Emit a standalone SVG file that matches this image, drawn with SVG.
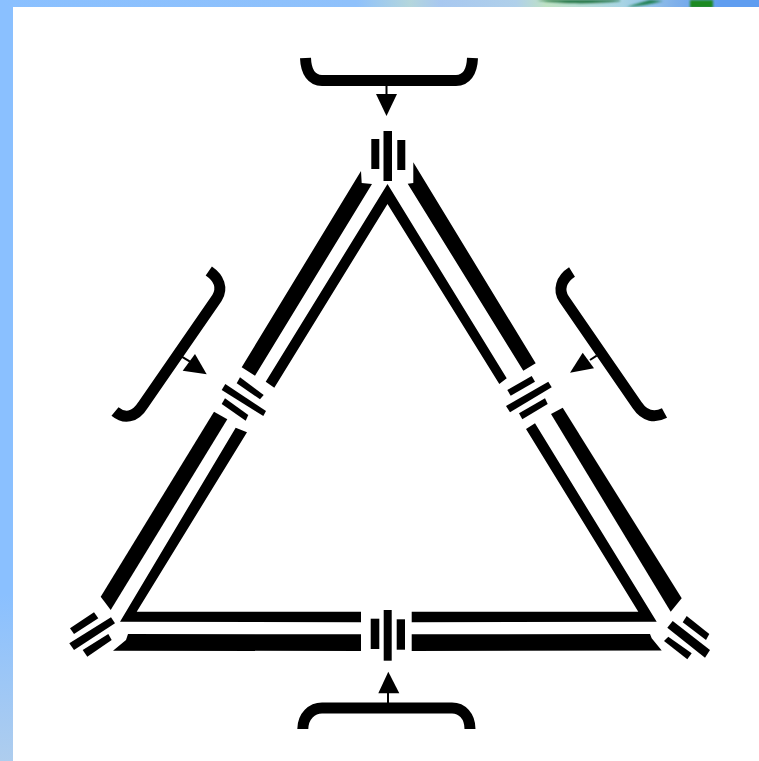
<svg xmlns="http://www.w3.org/2000/svg" width="759" height="761" viewBox="0 0 759 761">
<style>
.b{fill:#000}
.br{fill:none;stroke:#000;stroke-width:11;stroke-linecap:butt}
.st{fill:none;stroke:#000;stroke-width:2}
.s{filter:url(#soft)}
</style>
<defs>
<filter id="soft" x="-20%" y="-20%" width="140%" height="140%"><feGaussianBlur stdDeviation="0.55"/></filter>
<filter id="soft2" x="-20%" y="-100%" width="140%" height="300%"><feGaussianBlur stdDeviation="1.2"/></filter>
<linearGradient id="side" x1="0" y1="0" x2="0" y2="1">
<stop offset="0" stop-color="#8ac0ff"/><stop offset="0.78" stop-color="#8ac0ff"/><stop offset="1" stop-color="#aecdee"/>
</linearGradient>
<linearGradient id="top" x1="0" y1="0" x2="1" y2="0">
<stop offset="0" stop-color="#8ac0ff"/><stop offset="0.47" stop-color="#8fc1fb"/><stop offset="0.54" stop-color="#b4d6dc"/><stop offset="0.58" stop-color="#a8c8f0"/><stop offset="0.68" stop-color="#b0d0ea"/><stop offset="0.72" stop-color="#bfe2c4"/><stop offset="0.82" stop-color="#a8d4e4"/><stop offset="0.89" stop-color="#7fb0ea"/><stop offset="0.95" stop-color="#5f9df0"/><stop offset="1" stop-color="#5f9df0"/>
</linearGradient>
</defs>
<g id="background">
<rect width="759" height="761" fill="url(#side)"/>
<rect width="759" height="7" fill="url(#top)"/>
<g filter="url(#soft2)">
<path d="M537,0 C560,4 595,4 620,1 L620,0Z" fill="#1f6f3c"/>
<path d="M627,7 C640,6 652,4 663,1 L650,0 C640,3 632,5 627,7Z" fill="#1f7f50"/>
<path d="M690,8 L690,0 H713 L713,8Z" fill="#1f8a20"/>
</g>
<rect x="13" y="7" width="746" height="754" fill="#fff"/>
</g>
<g id="connectors" class="s">
<polygon class="b" points="361,171 361.7,183 372,184 255,375.7 241.7,367.3"/>
<polygon class="b" points="387.5,184 506.7,378.3 499.3,384 387.5,204 274.3,387.7 265.7,381.7"/>
<polygon class="b" points="413.3,162.3 413.3,183 407.7,183.7 523.3,370.7 535.7,363.3"/>
<polygon class="b" points="214,411.7 227.3,419.3 110.7,610 100.7,596.7"/>
<polygon class="b" points="235.7,427.7 247,432.3 136.7,611.7 361,611.7 361,622.3 120,621.7"/>
<polygon class="b" points="562.7,407.7 551,414 670.7,611.7 681.7,598.3"/>
<polygon class="b" points="535,423.3 526,429 638.3,611.7 411.7,611.7 411.7,622.3 656.7,621.7"/>
<polygon class="b" points="128,634 126,640 113,650.7 361,651 361,634.3"/>
<polygon class="b" points="650,634 651.7,638.3 661.7,650.5 411.7,651 411.7,634.3"/>
</g>
<g id="junction-top" class="s">
<rect class="b" x="383.5" y="131" width="8.5" height="50"/>
<rect class="b" x="371.3" y="139" width="8" height="30"/>
<rect class="b" x="397.3" y="140" width="8" height="30"/>
</g>
<g id="junction-bottom" class="s">
<rect class="b" x="383.7" y="610" width="8" height="50.7"/>
<rect class="b" x="370.7" y="618.7" width="8.6" height="30.3"/>
<rect class="b" x="396.7" y="619.3" width="8.3" height="30.4"/>
</g>
<g id="junction-left" class="s">
<polygon class="b" points="240,377.3 263.7,395 260,399.3 236.7,383.3"/>
<polygon class="b" points="225.3,384 266,411 263.3,416 221.7,390"/>
<polygon class="b" points="225,398.3 248.3,415 245.7,420.7 221.7,404"/>
</g>
<g id="junction-right" class="s">
<polygon class="b" points="531.7,376 535,381.7 510.7,395.7 507.3,390"/>
<polygon class="b" points="548.3,381.7 551.7,387.3 510,412.3 506,406"/>
<polygon class="b" points="545,398.3 547.7,404 522.3,419.3 519,413.3"/>
</g>
<g id="junction-bottom-left" class="s">
<polygon class="b" points="94,612.3 98.3,618.3 74,634 70,628.3"/>
<polygon class="b" points="111,617.3 115,623.3 74,650 69.3,643.3"/>
<polygon class="b" points="108.3,634 111.7,640 87.3,656.7 82.7,650"/>
</g>
<g id="junction-bottom-right" class="s">
<polygon class="b" points="686.7,616 709.3,634 706,640 682.7,622.3"/>
<polygon class="b" points="672.7,621 710,650 705,657.7 667.3,627.7"/>
<polygon class="b" points="668.3,636.7 691.7,653.3 687.3,659.3 664,641"/>
</g>
<g id="bracket-top" class="s">
<path class="br" d="M305.5,58 C306,72 312,80.5 322,80.5 H456 C466,80.5 472,72 472.5,58"/>
<path class="st" d="M386.5,86 V95"/>
<polygon class="b" points="376,94 397,94 386.5,116"/>
</g>
<g id="bracket-bottom" class="s">
<path class="br" d="M302.8,729 C303,716 312,708 322,708 H452 C462,708 470,716 470,729"/>
<path class="st" d="M388,693 V703"/>
<polygon class="b" points="388.3,671.7 399.3,693.3 378.3,693.3"/>
</g>
<g id="bracket-left" class="s">
<path class="br" d="M208.8,271 C219,278 223,288 217,298 L143,405 C135,418 124,419 115,411.5"/>
<path class="st" d="M181.7,356.7 L190,361.7"/>
<polygon class="b" points="195,354 182.7,370.7 206.7,374.3"/>
</g>
<g id="bracket-right" class="s">
<path class="br" d="M572,272 C561,279 558,290 564,299 L637,405 C645,417 655,418 664.5,413"/>
<path class="st" d="M596.7,355.7 L590,360"/>
<polygon class="b" points="582.7,352.7 594,368.3 570,372.7"/>
</g>
</svg>
